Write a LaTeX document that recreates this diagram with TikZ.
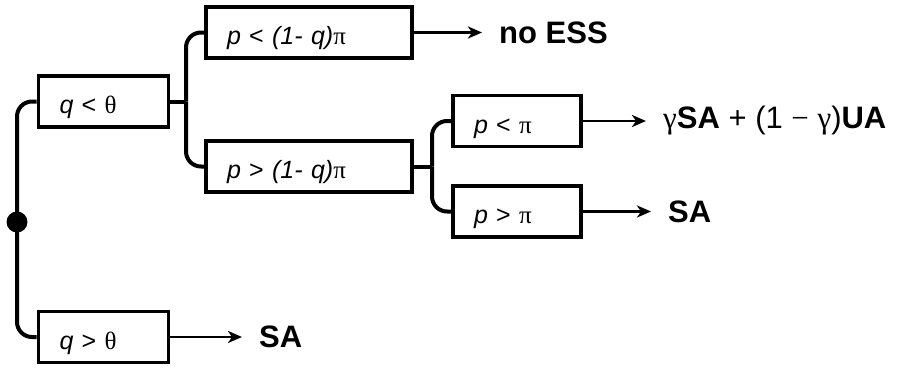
\documentclass[tikz,border=0pt]{standalone}
\usepackage{fontspec}
\setmainfont{Liberation Sans}
\newfontfamily\grk{Liberation Serif}
\usetikzlibrary{arrows.meta}

\begin{document}
\begin{tikzpicture}[x=1pt,y=-1pt]
    \tikzstyle{every node}=[font=\fontsize{25}{30}\selectfont]
    \tikzstyle{cond}=[draw, line width=3.8pt, minimum height=51pt, inner xsep=21pt, inner ysep=0pt,
        text height=26pt, text depth=2pt, align=left]
    \tikzstyle{outcome}=[font=\fontsize{31}{36}\selectfont, inner xsep=0pt, anchor=west]
    \tikzstyle{branch}=[line width=4pt, rounded corners=15pt]
    \tikzstyle{result}=[line width=2.9pt, -{Stealth[length=14pt,width=12pt,inset=4pt]}, shorten >=17pt]
    \useasboundingbox (0,0) rectangle (900,367);

    \node[circle, fill, inner sep=0pt, minimum size=21pt] (root) at (17,222) {};

    \node[cond, text width=88pt] (qlt) at (103.5,101.5) {\textit{q} < {\grk θ}};
    \node[cond, text width=88pt] (qgt) at (103.5,337) {\textit{q} > {\grk θ}};

    \node[cond, text width=164pt] (plo) at (309,32.5) {\textit{p} < \textit{(1- q)}{\grk π}};
    \node[cond, text width=164pt] (phi) at (309,166.5) {\textit{p} > \textit{(1- q)}{\grk π}};

    \node[cond, text width=86pt] (plp) at (517,121) {\textit{p} < {\grk π}};
    \node[cond, text width=86pt] (pgp) at (517,211.5) {\textit{p} > {\grk π}};

    \node[outcome] (noess) at (499,32.5) {\textbf{no ESS}};
    \node[outcome] (mix) at (663,121) {{\grk γ}\textbf{SA} + (1 {\grk −} {\grk γ})\textbf{UA}};
    \node[outcome] (sahi) at (668,211.5) {\textbf{SA}};
    \node[outcome] (salo) at (259,337) {\textbf{SA}};

    % branches
    \draw[branch] (root.center) |- (qlt.west);
    \draw[branch] (root.center) |- (qgt.west);

    \coordinate (j1) at (186,101.5);
    \draw[line width=4pt] (qlt.east) -- (j1);
    \draw[branch] (j1) |- (plo.west);
    \draw[branch] (j1) |- (phi.west);

    \coordinate (j2) at (432,166.5);
    \draw[line width=4pt] (phi.east) -- (j2);
    \draw[branch] (j2) |- (plp.west);
    \draw[branch] (j2) |- (pgp.west);

    % results
    \draw[result] (plo.east) -- (noess.west);
    \draw[result] (plp.east) -- (mix.west);
    \draw[result] (pgp.east) -- (sahi.west);
    \draw[result] (qgt.east) -- (salo.west);

\end{tikzpicture}
\end{document}
